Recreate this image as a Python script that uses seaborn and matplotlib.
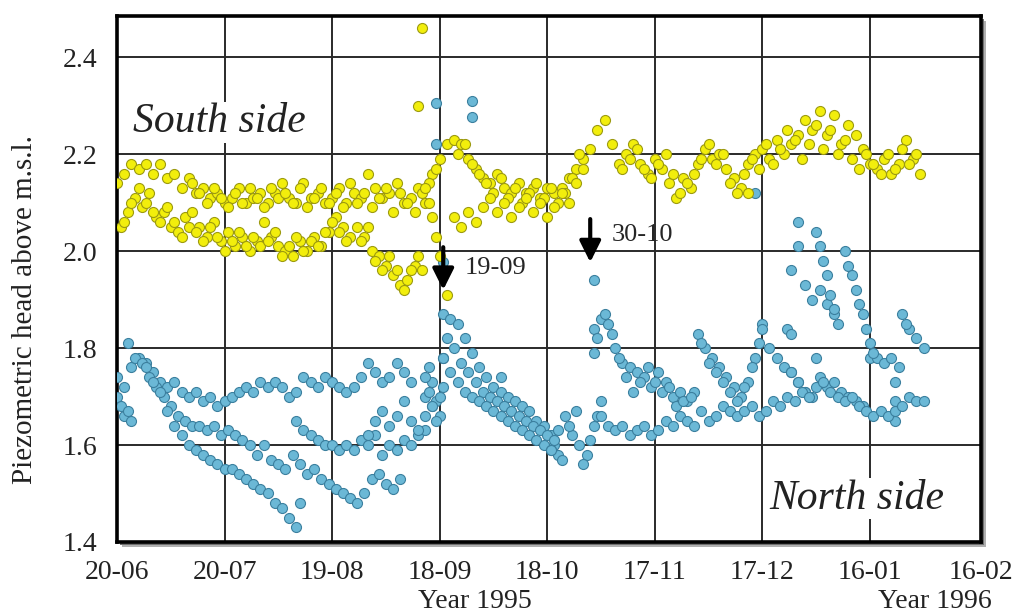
import numpy as np
import pandas as pd
import matplotlib
matplotlib.use("Agg")
import matplotlib.pyplot as plt
from matplotlib.patches import Rectangle
import seaborn as sns

# day 0 = 20-06-1995, values every 2 days unless noted
origin = pd.Timestamp("1995-06-20")

# ---- South side (yellow) ----
s_upper_start = 0
s_upper = [2.14, 2.16, 2.18, 2.17, 2.18, 2.16,
           2.18, 2.15, 2.16, 2.13, 2.15,
           2.12, 2.13, 2.11, 2.12, 2.10,
           2.11, 2.13, 2.10, 2.11, 2.12,
           2.10, 2.12, 2.14, 2.11, 2.10,
           2.14, 2.11, 2.12, 2.10, 2.11,
           2.13, 2.10, 2.12, 2.11, 2.16,
           2.13, 2.11, 2.12, 2.14, 2.10,
           2.11, 2.13, 2.10, 2.16, 2.19,
           2.22, 2.23, 2.22, 2.19, 2.17,
           2.15, 2.14, 2.16, 2.13, 2.12,
           2.14, 2.12, 2.13, 2.11, 2.13,
           2.12, 2.13, 2.15, 2.17, 2.19,
           2.21, 2.25, 2.27, 2.22, 2.18,
           2.20, 2.22, 2.18, 2.16, 2.19,
           2.17, 2.14, 2.11, 2.15, 2.13,
           2.18, 2.21, 2.19, 2.20, 2.17,
           2.15, 2.13, 2.18, 2.20, 2.21,
           2.19, 2.23, 2.20, 2.22, 2.24,
           2.27, 2.25, 2.29, 2.24, 2.28,
           2.22, 2.26, 2.24, 2.21, 2.18,
           2.17, 2.19, 2.16, 2.18, 2.23,
           2.19, 2.16]

s_upper2_start = 21
s_upper2 = [2.14, 2.12, 2.10, 2.13, 2.11, 2.09, 2.12, 2.10, 2.13, 2.11,
            2.09, 2.13, 2.11, 2.12, 2.10, 2.13, 2.09, 2.11, 2.13, 2.10,
            2.12, 2.09, 2.14, 2.10, 2.12, 2.09, 2.11, 2.13, 2.08, 2.12,
            2.10, 2.08, 2.12, 2.14, 2.17]

s_upper3_start = 141
s_upper3 = [2.17, 2.19, 2.21, 2.17, 2.15, 2.18, 2.20, 2.16, 2.12, 2.14,
            2.16, 2.19, 2.22, 2.18, 2.20, 2.14, 2.12, 2.16, 2.19, 2.17,
            2.22, 2.18, 2.21, 2.25, 2.23, 2.19, 2.22, 2.26, 2.21, 2.25,
            2.20, 2.23, 2.19, 2.17, 2.20, 2.18, 2.16, 2.20, 2.17, 2.21,
            2.18, 2.20]

s_sept_start = 95
s_sept = [2.20, 2.22, 2.18, 2.16, 2.14, 2.12, 2.15, 2.11, 2.13, 2.10,
          2.12, 2.14, 2.11, 2.13, 2.10, 2.12, 2.15, 2.20]

s_lower_start = 1
s_lower = [2.05, 2.08, 2.11, 2.09, 2.12, 2.07, 2.08, 2.05, 2.04, 2.07,
           2.08, 2.05, 2.03, 2.06, 2.02, 2.04, 2.01, 2.03, 2.00, 2.02,
           2.06, 2.03, 2.01, 2.00, 1.99, 2.02, 2.00, 2.03, 2.01, 2.04,
           2.07, 2.05, 2.03]

s_lower2_start = 2
s_lower2 = [2.06, 2.10, 2.13, 2.10, 2.08, 2.06, 2.09, 2.06, 2.03, 2.05,
            2.04, 2.02, 2.05, 2.03, 2.00, 2.02, 2.04, 2.01, 2.03, 2.01,
            2.02, 2.04, 1.99, 2.01, 2.03, 2.00, 2.02, 2.01, 2.04, 2.06,
            2.04, 2.02]

s_dip_start = 67
s_dip = [2.05, 2.03, 2.00, 1.99, 1.97, 1.95, 1.93, 1.94, 1.97, 1.96]
s_dip2_start = 68
s_dip2 = [2.02, 2.05, 1.98, 1.96, 1.99, 1.96, 1.92, 1.96, 1.99]

s_drop_start = 86   # daily
s_drop = [2.13, 2.10, 2.07, 2.03, 1.99, 1.95, 1.91]

s_after_start = 94
s_after = [2.07, 2.05, 2.08, 2.06, 2.09, 2.11, 2.08, 2.10, 2.07, 2.09,
           2.11, 2.08, 2.10, 2.07, 2.09, 2.12, 2.10, 2.14, 2.17]

s_single_days = [85, 84, 176]
s_single_vals = [2.46, 2.30, 2.12]

# ---- North side (blue) ----
n_top_start = 0
n_top = [1.74, 1.72, 1.76, 1.78, 1.77, 1.75, 1.73, 1.72, 1.73, 1.71,
         1.70, 1.71, 1.69, 1.70, 1.68, 1.69, 1.70, 1.71, 1.72, 1.71,
         1.73, 1.72, 1.73, 1.72, 1.70, 1.71, 1.74, 1.73, 1.72, 1.74,
         1.73, 1.72, 1.71, 1.72, 1.74, 1.77, 1.75, 1.73, 1.74, 1.77,
         1.75, 1.73]

n_second_start = 3
n_second = [1.81, 1.78, 1.77, 1.74, 1.72, 1.70, 1.68, 1.66, 1.65, 1.64,
            1.64, 1.63, 1.64, 1.62, 1.63, 1.62, 1.61, 1.60, 1.58, 1.60,
            1.57, 1.56, 1.55, 1.58, 1.56, 1.54, 1.55, 1.53, 1.52, 1.51,
            1.50, 1.49, 1.48, 1.50, 1.53, 1.54, 1.52, 1.51, 1.53]

n_low_start = 8
n_low = [1.76, 1.73, 1.71, 1.67, 1.64, 1.62, 1.60, 1.59, 1.58, 1.57,
         1.56, 1.55, 1.55, 1.54, 1.53, 1.52, 1.51, 1.50, 1.48, 1.47,
         1.45, 1.43]

n_start_low_start = 0   # daily
n_start_low = [1.70, 1.68, 1.66, 1.67, 1.65]

n_mid_start = 50
n_mid = [1.65, 1.63, 1.62, 1.61, 1.60, 1.60, 1.59, 1.60, 1.59, 1.61,
         1.60, 1.62, 1.58, 1.60, 1.59, 1.61, 1.60, 1.62, 1.63, 1.68]

n_scatter_start = 70
n_scatter = [1.62, 1.65, 1.67, 1.64, 1.66, 1.69, 1.65, 1.63, 1.66]

n_rise_start = 86   # daily
n_rise = [1.70, 1.76, 1.73, 1.69, 1.66, 1.72]
n_rise2 = [1.74, 1.71, 1.68, 1.65, 1.70, 1.78]

n_sep_up_start = 91
n_sep_up = [1.87, 1.86, 1.85, 1.82, 1.79, 1.76, 1.74, 1.72, 1.71, 1.70,
            1.69, 1.68, 1.67, 1.65, 1.64, 1.62]
n_sep_mid_start = 92
n_sep_mid = [1.82, 1.80, 1.77, 1.75, 1.73, 1.71, 1.70, 1.69, 1.68, 1.67,
             1.66, 1.65, 1.64, 1.63, 1.62, 1.60]
n_sep_low_start = 91
n_sep_low = [1.78, 1.75, 1.73, 1.71, 1.70, 1.69, 1.68, 1.67, 1.66, 1.65,
             1.64, 1.63, 1.62, 1.61, 1.60, 1.59, 1.58]

n_oct_start = 121
n_oct = [1.59, 1.63, 1.66, 1.62, 1.60, 1.58, 1.64, 1.69]
n_oct2_start = 122
n_oct2 = [1.61, 1.57, 1.64, 1.67, 1.56, 1.61, 1.66]

n_nov_start = 133
n_nov = [1.84, 1.86, 1.85, 1.80, 1.77, 1.76, 1.75, 1.74, 1.72, 1.75,
         1.73, 1.70, 1.71, 1.69, 1.71]
n_nov2_start = 134
n_nov2 = [1.82, 1.87, 1.83, 1.78, 1.74, 1.71, 1.73, 1.76, 1.73, 1.71,
          1.72, 1.68, 1.69, 1.70]

n_dec_start = 162
n_dec = [1.83, 1.80, 1.78, 1.76, 1.74, 1.72, 1.70, 1.73, 1.78, 1.85]
n_dec2_start = 163
n_dec2 = [1.81, 1.77, 1.75, 1.73, 1.71, 1.69, 1.72, 1.76, 1.81]

n_xmas_start = 180
n_xmas = [1.84, 1.80, 1.78, 1.76, 1.75, 1.73, 1.71]

n_jan_start = 188
n_jan = [1.75, 1.73, 1.71, 1.70, 1.74, 1.72, 1.73, 1.71, 1.70, 1.69, 1.68]

n_flat_start = 210
n_flat = [1.78, 1.78, 1.77, 1.78, 1.76]
n_step_days = [217, 217, 217]
n_step_vals = [1.73, 1.69, 1.65]

n_end_start = 219
n_end = [1.87, 1.84, 1.82, 1.80]

n_peak_start = 188
n_peak = [1.96, 2.01, 1.93, 1.90, 1.92, 1.89, 1.87]
n_peak2_start = 195   # daily
n_peak2 = [2.04, 2.01, 1.98, 1.95, 1.91, 1.88, 1.85]
n_peak3_start = 203   # daily
n_peak3 = [2.00, 1.97, 1.95, 1.92, 1.89, 1.87, 1.84, 1.81, 1.79]

n_base_start = 135
n_base = [1.66, 1.64, 1.63, 1.64, 1.62, 1.63, 1.64, 1.62, 1.63, 1.65,
          1.64, 1.66, 1.65, 1.64, 1.67, 1.65, 1.66, 1.68, 1.67, 1.66,
          1.67, 1.68, 1.66, 1.67, 1.69, 1.68, 1.70, 1.69, 1.71, 1.70,
          1.72, 1.73, 1.71, 1.70, 1.69, 1.70, 1.68, 1.67, 1.66, 1.67,
          1.66, 1.67, 1.68, 1.70, 1.69, 1.69]

n_single_days = [89, 99, 99, 89, 91, 133, 133, 178, 107, 51, 190, 187, 188, 195, 220]
n_single_vals = [2.305, 2.31, 2.276, 2.22, 1.977, 1.94, 1.79, 2.12, 1.74, 1.48,
                 2.06, 1.84, 1.83, 1.78, 1.85]

tick_dates = ["1995-06-20", "1995-07-20", "1995-08-19", "1995-09-18", "1995-10-18",
              "1995-11-17", "1995-12-17", "1996-01-16", "1996-02-16"]
tick_labels = ["20-06", "20-07", "19-08", "18-09", "18-10", "17-11", "17-12", "16-01", "16-02"]


def track(start, vals, step=2):
    days = start + step * np.arange(len(vals))
    return pd.DataFrame({"date": origin + pd.to_timedelta(days, unit="D"), "head": vals})


def singles(days, vals):
    return pd.DataFrame({"date": origin + pd.to_timedelta(days, unit="D"), "head": vals})


south = pd.concat([
    track(s_upper_start, s_upper), track(s_upper2_start, s_upper2),
    track(s_upper3_start, s_upper3), track(s_sept_start, s_sept),
    track(s_lower_start, s_lower),
    track(s_lower2_start, s_lower2), track(s_dip_start, s_dip),
    track(s_dip2_start, s_dip2), track(s_drop_start, s_drop, 1),
    track(s_after_start, s_after), singles(s_single_days, s_single_vals),
])

north = pd.concat([
    track(n_top_start, n_top), track(n_second_start, n_second),
    track(n_low_start, n_low), track(n_start_low_start, n_start_low, 1),
    track(n_mid_start, n_mid), track(n_scatter_start, n_scatter),
    track(n_rise_start, n_rise, 1), track(n_rise_start, n_rise2, 1),
    track(n_sep_up_start, n_sep_up), track(n_sep_mid_start, n_sep_mid),
    track(n_sep_low_start, n_sep_low), track(n_oct_start, n_oct),
    track(n_oct2_start, n_oct2), track(n_nov_start, n_nov),
    track(n_nov2_start, n_nov2), track(n_dec_start, n_dec),
    track(n_dec2_start, n_dec2), track(n_xmas_start, n_xmas),
    track(n_jan_start, n_jan), track(n_flat_start, n_flat),
    singles(n_step_days, n_step_vals), track(n_end_start, n_end),
    track(n_peak_start, n_peak), track(n_peak2_start, n_peak2, 1),
    track(n_peak3_start, n_peak3, 1), track(n_base_start, n_base),
    singles(n_single_days, n_single_vals),
])

sns.set_style("white")
plt.rcParams["font.family"] = ["Liberation Serif", "DejaVu Serif"]

fig = plt.figure(figsize=(10.13, 6.14), dpi=100)
ax = fig.add_axes([0.1155, 0.1173, 0.8529, 0.8567])
ax.set_zorder(2)
ax.set_facecolor("white")

# drop shadow of the frame
pos = ax.get_position()
for off, col in [(0.0085, "#b0b0b0"), (0.0055, "#707070")]:
    fig.add_artist(Rectangle((pos.x0 + off * 0.6, pos.y0 - off), pos.width, pos.height,
                             transform=fig.transFigure, facecolor=col, edgecolor="none", zorder=0))

sns.scatterplot(data=north, x="date", y="head", ax=ax, color="#6bb8d6",
                edgecolor="#3b7f9e", linewidth=0.8, s=52, zorder=3)
sns.scatterplot(data=south, x="date", y="head", ax=ax, color="#f2ee0c",
                edgecolor="#9c9a10", linewidth=0.8, s=52, zorder=4)

ax.set_xlim(pd.Timestamp(tick_dates[0]), pd.Timestamp(tick_dates[-1]))
ax.set_ylim(1.4, 2.485)
ax.set_xticks([pd.Timestamp(d) for d in tick_dates])
ax.set_xticklabels(tick_labels)
ax.set_yticks([1.4, 1.6, 1.8, 2.0, 2.2, 2.4])
ax.set_yticklabels(["1.4", "1.6", "1.8", "2.0", "2.2", "2.4"])
ax.tick_params(axis="both", length=0, labelsize=20, colors="#222222")
ax.tick_params(axis="x", pad=13)
ax.tick_params(axis="y", pad=14)
ax.grid(True, color="#2a2a2a", linewidth=1.4)
ax.set_axisbelow(True)
for sp in ax.spines.values():
    sp.set_linewidth(2.6)
    sp.set_color("black")

ax.set_xlabel("")
ax.set_ylabel("Piezometric head above m.s.l.", fontsize=21, color="#222222")
ax.yaxis.set_label_coords(-0.092, 0.441)

ax.text(origin + pd.Timedelta(days=4.5), 2.266, "South side", fontsize=30, style="italic",
        va="center", ha="left", color="#222222", zorder=5,
        bbox=dict(facecolor="white", edgecolor="none", pad=1))
ax.text(origin + pd.Timedelta(days=182), 1.49, "North side", fontsize=30, style="italic",
        va="center", ha="left", color="#222222", zorder=5,
        bbox=dict(facecolor="white", edgecolor="none", pad=1))

arrow = dict(arrowstyle="-|>", lw=3, color="black", mutation_scale=32, shrinkA=0, shrinkB=0)
ax.annotate("", xy=(origin + pd.Timedelta(days=91), 1.92),
            xytext=(origin + pd.Timedelta(days=91), 2.008), arrowprops=arrow, zorder=6)
ax.annotate("", xy=(origin + pd.Timedelta(days=132), 1.977),
            xytext=(origin + pd.Timedelta(days=132), 2.066), arrowprops=arrow, zorder=6)
ax.text(origin + pd.Timedelta(days=97), 1.965, "19-09", fontsize=19, va="center", ha="left", zorder=6)
ax.text(origin + pd.Timedelta(days=138), 2.033, "30-10", fontsize=19, va="center", ha="left", zorder=6)

fig.text(475 / 1013, 1 - 601 / 614, "Year 1995", fontsize=20, ha="center", va="center", color="#222222")
fig.text(935 / 1013, 1 - 601 / 614, "Year 1996", fontsize=20, ha="center", va="center", color="#222222")

fig.savefig("out.png", dpi=100)
